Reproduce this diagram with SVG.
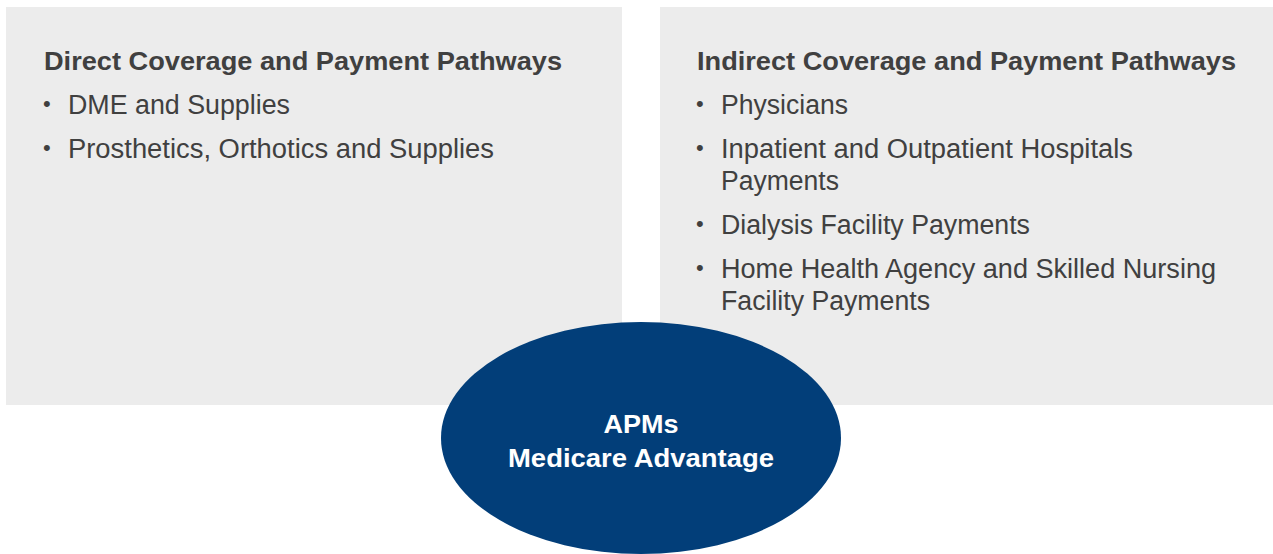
<svg xmlns="http://www.w3.org/2000/svg" width="1273" height="554" viewBox="0 0 1273 554">
<style>
.panel{fill:#ececec}
.title{font-family:"Liberation Sans",Arial,sans-serif;font-weight:bold;font-size:25px;fill:#404040}
.item{font-family:"Liberation Sans",Arial,sans-serif;font-size:27px;fill:#404040}
.dot{font-family:"Liberation Sans",Arial,sans-serif;font-size:22px;fill:#404040}
.oval{fill:#023e79}
.otext{font-family:"Liberation Sans",Arial,sans-serif;font-weight:bold;font-size:25px;fill:#ffffff;text-anchor:middle}
</style>
<rect width="1273" height="554" fill="#ffffff"/>
<g id="direct">
<rect class="panel" x="6" y="7" width="616" height="398"/>
<text class="title" x="44" y="70" textLength="518" lengthAdjust="spacingAndGlyphs">Direct Coverage and Payment Pathways</text>
<text class="dot" x="43" y="111">•</text>
<text class="item" x="68" y="114" textLength="222" lengthAdjust="spacingAndGlyphs">DME and Supplies</text>
<text class="dot" x="43" y="155">•</text>
<text class="item" x="68" y="158" textLength="426" lengthAdjust="spacingAndGlyphs">Prosthetics, Orthotics and Supplies</text>
</g>
<g id="indirect">
<rect class="panel" x="660" y="7" width="613" height="398"/>
<text class="title" x="697" y="70" textLength="539" lengthAdjust="spacingAndGlyphs">Indirect Coverage and Payment Pathways</text>
<text class="dot" x="696" y="111">•</text>
<text class="item" x="721" y="114" textLength="127" lengthAdjust="spacingAndGlyphs">Physicians</text>
<text class="dot" x="696" y="155">•</text>
<text class="item" x="721" y="158" textLength="412" lengthAdjust="spacingAndGlyphs">Inpatient and Outpatient Hospitals</text>
<text class="item" x="721" y="190" textLength="118" lengthAdjust="spacingAndGlyphs">Payments</text>
<text class="dot" x="696" y="231">•</text>
<text class="item" x="721" y="234" textLength="309" lengthAdjust="spacingAndGlyphs">Dialysis Facility Payments</text>
<text class="dot" x="696" y="275">•</text>
<text class="item" x="721" y="278" textLength="495" lengthAdjust="spacingAndGlyphs">Home Health Agency and Skilled Nursing</text>
<text class="item" x="721" y="310" textLength="209" lengthAdjust="spacingAndGlyphs">Facility Payments</text>
</g>
<g id="connectors"></g>
<g id="apms">
<ellipse class="oval" cx="641" cy="438" rx="200" ry="116"/>
<text class="otext" x="641" y="433" textLength="75" lengthAdjust="spacingAndGlyphs">APMs</text>
<text class="otext" x="641" y="467" textLength="266" lengthAdjust="spacingAndGlyphs">Medicare Advantage</text>
</g>
</svg>
